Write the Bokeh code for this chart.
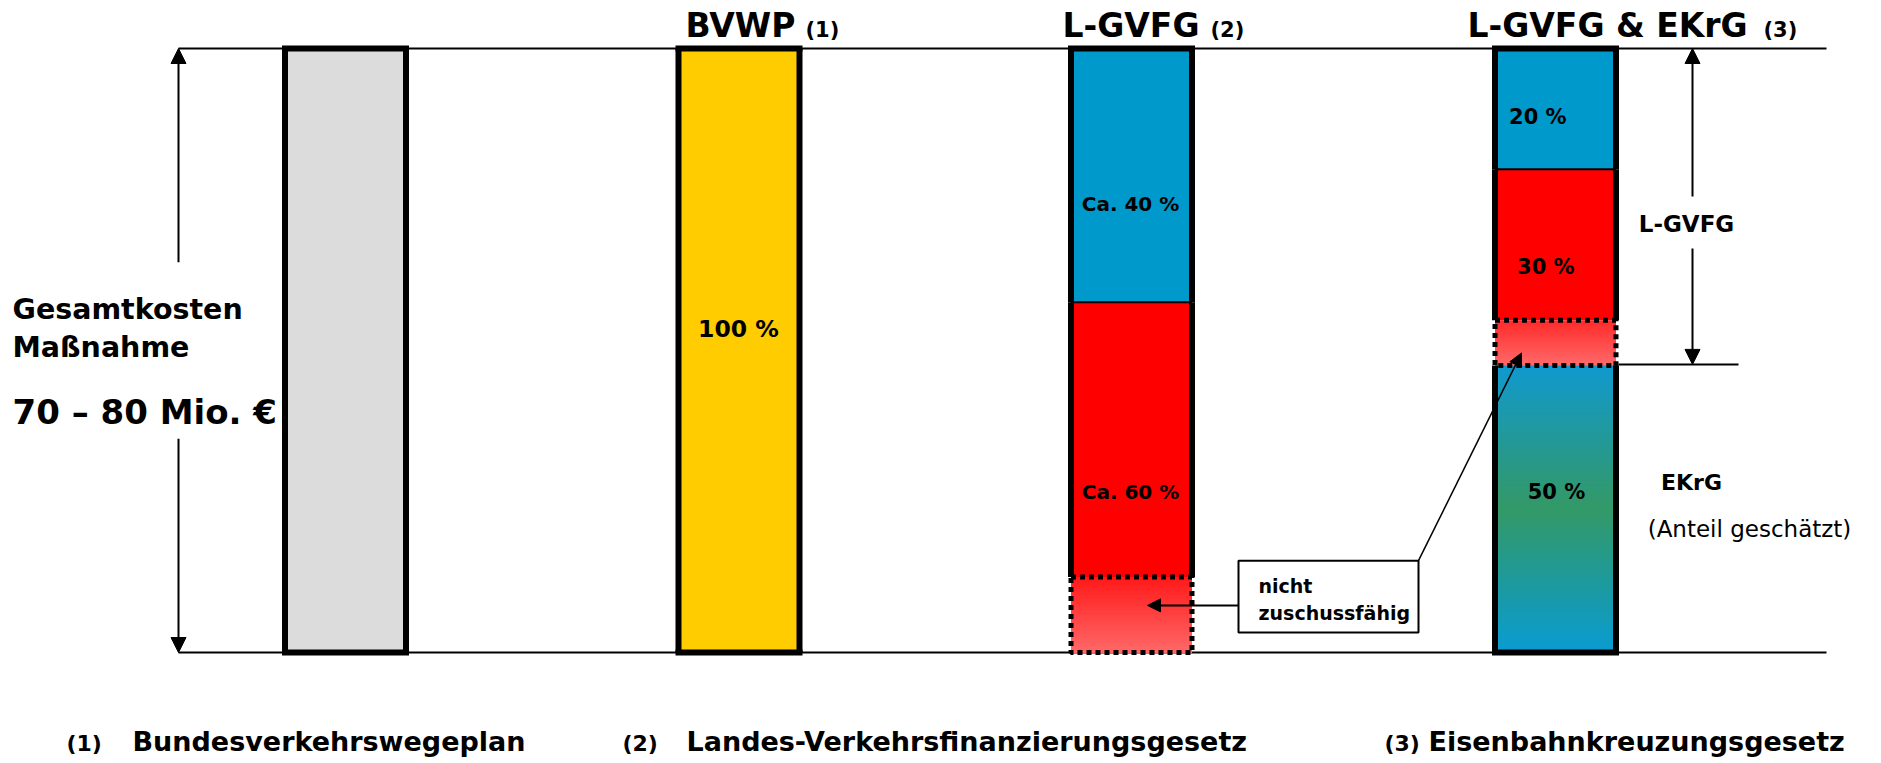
import numpy as np
from bokeh.plotting import figure
from bokeh.models import Range1d, Arrow, NormalHead
from bokeh.embed import file_html
from bokeh.resources import INLINE
from bokeh.core.properties import value

# ---------------- data ----------------
categories = ["Gesamtkosten", "BVWP", "L-GVFG", "L-GVFG & EKrG"]
title_notes = ["", "(1)", "(2)", "(3)"]
gesamt_shares = [100.0]
bvwp_shares = [100.0]
bvwp_labels = ["100 %"]
lgvfg_shares = [42.0, 45.5, 12.5]
lgvfg_labels = ["Ca. 40 %", "Ca. 60 %", ""]
ekrg_shares = [20.0, 25.0, 7.5, 47.5]
ekrg_labels = ["20  %", "30  %", "", "50 %"]
cost_lines = ["Gesamtkosten", "Maßnahme", "70 \u2013 80 Mio. \u20ac"]
side_labels = ["L-GVFG", "EKrG", "(Anteil geschätzt)"]
callout_lines = ["nicht", "zuschussfähig"]
footnotes = ["(1)", "(2)", "(3)"]
footnote_texts = ["Bundesverkehrswegeplan", "Landes-Verkehrsfinanzierungsgesetz", "Eisenbahnkreuzungsgesetz"]

# ---------------- layout / styles ----------------
W, H = 1868, 760
TOP_PX, BOT_PX = 48, 652
PXU = (BOT_PX - TOP_PX) / 100.0
FONT = value("DejaVu Sans")

p = figure(width=W, height=H, x_range=Range1d(0, W),
           y_range=Range1d((BOT_PX - H) / PXU, BOT_PX / PXU),
           x_axis_type=None, y_axis_type=None, output_backend="svg",
           toolbar_location=None, min_border=0)
p.grid.visible = False
p.outline_line_color = None
p.background_fill_color = "white"

bar_x = [345, 738.5, 1131, 1555]
BW = 121

def hex2rgb(h):
    h = h.lstrip("#")
    return np.array([int(h[i:i + 2], 16) for i in (0, 2, 4)], dtype=float)

def gradient(stops, n):
    st = [hex2rgb(s) for s in stops]
    pos = np.linspace(0, 1, len(st))
    out = []
    for t in np.linspace(0, 1, n):
        c = [np.interp(t, pos, [s[k] for s in st]) for k in range(3)]
        out.append("#%02x%02x%02x" % tuple(int(round(v)) for v in c))
    return out

# fill style per segment: list of colour stops (one = solid), border dashed?
styles = {
    0: [(["#dcdcdc"], False)],
    1: [(["#ffcc00"], False)],
    2: [(["#0099cc"], False), (["#ff0000"], False), (["#ff1a1a", "#ff6868"], True)],
    3: [(["#0099cc"], False), (["#ff0000"], False), (["#ff2a2a", "#ff6a6a"], True),
        (["#1199cc", "#339966", "#0a9bd0"], False)],
}
all_shares = [gesamt_shares, bvwp_shares, lgvfg_shares, ekrg_shares]

# reference lines (top / bottom)
p.segment(x0=[178, 178], y0=[100, 0], x1=[1826, 1826], y1=[100, 0],
          line_color="black", line_width=2)

for i, shares in enumerate(all_shares):
    xc = bar_x[i]
    l, r = xc - BW / 2, xc + BW / 2
    tops = 100 - np.concatenate([[0], np.cumsum(shares)[:-1]])
    bots = tops - np.array(shares)
    segs = styles[i]
    for j, (stops, dashed) in enumerate(segs):
        t, b = tops[j], bots[j]
        if len(stops) == 1:
            p.quad(left=[l], right=[r], top=[t], bottom=[b], fill_color=stops[0], line_color=None)
        else:
            n = 60
            edges = np.linspace(t, b, n + 1)
            cols = gradient(stops, n)
            p.quad(left=[l] * n, right=[r] * n, top=edges[:-1], bottom=edges[1:] - 0.15,
                   fill_color=cols, line_color=None)
    # outlines
    for j, (stops, dashed) in enumerate(segs):
        t, b = tops[j], bots[j]
        if dashed:
            continue
        p.segment(x0=[l, r], y0=[b, b], x1=[l, r], y1=[t, t], line_color="black", line_width=6)
        if j == 0:
            p.segment(x0=[l - 3], y0=[t], x1=[r + 3], y1=[t], line_color="black", line_width=6)
        if j == len(segs) - 1:
            p.segment(x0=[l - 3], y0=[b], x1=[r + 3], y1=[b], line_color="black", line_width=6)
        if j > 0 and not segs[j - 1][1]:
            p.segment(x0=[l], y0=[t], x1=[r], y1=[t], line_color="black", line_width=2)
    for j, (stops, dashed) in enumerate(segs):
        t, b = tops[j], bots[j]
        if dashed:
            p.quad(left=[l], right=[r], top=[t], bottom=[b], fill_color=None,
                   line_color="black", line_width=5, line_dash="5 4")

MID = dict(text_font=FONT, text_baseline="middle")

# titles
p.text(x=[685, 1062, 1467], y=[103.8] * 3, text=categories[1:], text_font_style="bold",
       text_font_size="33px", **MID)
p.text(x=[805, 1210, 1763], y=[103.1] * 3, text=title_notes[1:], text_font_style="bold",
       text_font_size="21px", **MID)

# segment labels
p.text(x=[738], y=[53.6], text=bvwp_labels, text_font_style="bold",
       text_font_size="23.5px", text_align="center", **MID)
p.text(x=[1130, 1130], y=[74.2, 26.5], text=lgvfg_labels[:2], text_font_style="bold",
       text_font_size="20px", text_align="center", **MID)
p.text(x=[1541, 1549, 1556], y=[88.7, 63.9, 26.5], text=[ekrg_labels[0], ekrg_labels[1], ekrg_labels[3]],
       text_font_style="bold", text_font_size="21px", text_align="center", **MID)

# left annotation
p.text(x=[12, 12], y=[56.8, 50.5], text=cost_lines[:2], text_font_style="bold",
       text_font_size="28.5px", **MID)
p.text(x=[12], y=[39.9], text=cost_lines[2:], text_font_style="bold",
       text_font_size="34px", **MID)

head = dict(size=15, fill_color="black", line_color="black")
p.add_layout(Arrow(end=NormalHead(**head), x_start=178, y_start=64.6, x_end=178, y_end=100,
                   line_width=2))
p.add_layout(Arrow(end=NormalHead(**head), x_start=178, y_start=35.4, x_end=178, y_end=0,
                   line_width=2))

# right annotation
p.add_layout(Arrow(end=NormalHead(**head), x_start=1692, y_start=75.5, x_end=1692, y_end=100,
                   line_width=2))
p.add_layout(Arrow(end=NormalHead(**head), x_start=1692, y_start=66.9, x_end=1692, y_end=47.7,
                   line_width=2))
p.segment(x0=[1618], y0=[47.7], x1=[1738], y1=[47.7], line_color="black", line_width=2)
p.text(x=[1686], y=[70.9], text=side_labels[:1], text_font_style="bold",
       text_font_size="23px", text_align="center", **MID)
p.text(x=[1691], y=[28.1], text=side_labels[1:2], text_font_style="bold",
       text_font_size="22px", text_align="center", **MID)
p.text(x=[1749], y=[20.4], text=side_labels[2:],
       text_font_size="23px", text_align="center", **MID)

# callout
p.quad(left=[1238], right=[1418], top=[15.2], bottom=[3.3], fill_color="white",
       line_color="black", line_width=2)
p.text(x=[1258, 1258], y=[11.0, 6.6], text=callout_lines, text_font_style="bold",
       text_font_size="19px", **MID)
p.add_layout(Arrow(end=NormalHead(size=13, fill_color="black", line_color="black"),
                   x_start=1238, y_start=7.8, x_end=1147, y_end=7.8, line_width=2))
p.add_layout(Arrow(end=NormalHead(size=13, fill_color="black", line_color="black"),
                   x_start=1418, y_start=15.2, x_end=1521, y_end=49.6, line_width=1.5))

# footer
p.text(x=[66, 622, 1384], y=[-15.1] * 3, text=footnotes, text_font_style="bold",
       text_font_size="22px", **MID)
p.text(x=[132, 686, 1428], y=[-14.8] * 3, text=footnote_texts, text_font_style="bold",
       text_font_size="27px", **MID)

open("out.html", "w").write(file_html(p, INLINE))
